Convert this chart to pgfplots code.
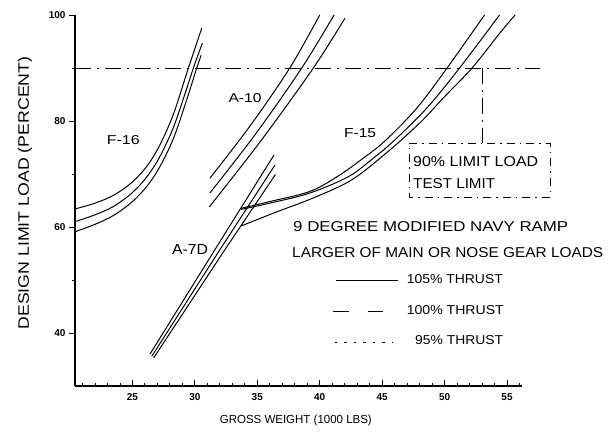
\documentclass[border=0pt]{standalone}
\usepackage{fontspec}
\setmainfont{Liberation Sans}
\usepackage{graphicx}
\usepackage{pgfplots}
\pgfplotsset{compat=1.18}
\newcommand{\fit}[3]{\resizebox{#1}{#2}{#3}}
\begin{document}
\begin{tikzpicture}
\begin{axis}[
  scale only axis, width=447pt, height=371pt,
  xmin=20.4, xmax=56.2, ymin=30, ymax=100,
  axis lines=left, axis line style={-, line width=1.3pt},
  clip=false,
  xtick={25,30,35,40,45,50,55}, minor xtick={21,22,...,56},
  ytick={40,60,80,100}, minor ytick={50,70,90},
  xtick align=inside, ytick align=outside,
  major tick length=6pt, minor tick length=3pt,
  tick style={black, line width=0.9pt},
  /pgf/number format/assume math mode=true,
  ticklabel style={font=\bfseries\fontsize{10}{12}\selectfont},
  xticklabel style={yshift=-4pt},
  xlabel={\fit{152pt}{8.5pt}{GROSS WEIGHT (1000 LBS)}},
  ylabel={\fit{273pt}{11pt}{DESIGN LIMIT LOAD (PERCENT)}},
  every axis x label/.style={at={(rel axis cs:0.494,-0.0916)}, anchor=center},
  every axis y label/.style={at={(rel axis cs:-0.1119,0.52)}, anchor=center, rotate=90},
  crv/.style={black, line width=1pt, no marks, smooth, tension=0.55},
  seg/.style={black, line width=1pt, no marks},
]
% invisible frame to fix the picture size
\path (rel axis cs:-0.1678,-0.1294) rectangle (rel axis cs:1.1991,1.0404);

% 90% limit load line and test-limit box
\addplot[seg, line width=0.9pt, dash pattern=on 16pt off 6pt on 2pt off 6pt] coordinates {(20.4,90) (57.64,90)};
\addplot[seg, line width=0.9pt, dash pattern=on 16pt off 6pt on 2pt off 6pt] coordinates {(53.0,90) (53.0,75.85)};
\addplot[seg, line width=0.9pt, dash pattern=on 8pt off 5pt on 1.5pt off 5pt] coordinates {(47.15,75.85) (58.44,75.85) (58.44,65.66) (47.15,65.66) (47.15,75.85)};

% F-16
\addplot[crv] coordinates {(20.4,63.4) (22.0,64.5) (23.5,66.0) (25.0,68.5) (26.2,71.6) (27.2,75.5) (28.3,81.4) (29.4,89.4) (30.55,97.5)};
\addplot[crv] coordinates {(20.4,61.0) (22.0,62.3) (23.5,63.9) (25.0,66.5) (26.2,69.6) (27.2,73.3) (28.3,78.9) (29.4,86.5) (29.88,90) (30.6,94.7)};
\addplot[crv] coordinates {(20.4,59.1) (22.0,60.5) (23.5,62.2) (25.0,64.8) (26.2,67.8) (27.2,71.4) (28.3,76.8) (29.4,84.4) (30.15,90) (30.5,92.4)};

% A-10
\addplot[crv] coordinates {(31.2,69.2) (34.4,79.0) (37.6,90) (40.0,100)};
\addplot[crv] coordinates {(31.2,66.4) (34.88,77.6) (38.56,90) (41.15,100)};
\addplot[crv] coordinates {(31.16,63.8) (35.3,76.3) (39.49,90) (42.02,99.4)};

% A-7D
\addplot[seg] coordinates {(26.4,36.0) (31.6,55.7) (36.34,73.6)};
\addplot[seg] coordinates {(26.55,35.6) (32.0,55.7) (36.42,71.7)};
\addplot[seg] coordinates {(26.7,35.3) (32.4,55.7) (36.45,69.9)};

% F-15
\addplot[crv] coordinates {(33.67,63.5) (36,64.8) (39.2,66.7) (41.4,69.5) (43.5,73) (45.3,76.4) (47.8,82.5) (50.2,90) (53.2,100)};
\addplot[crv] coordinates {(33.67,63.3) (36,64.5) (39.2,66.4) (42.3,69.5) (44.3,73) (46,76.4) (48.6,82.5) (51.2,90) (54.4,100)};
\addplot[crv] coordinates {(33.72,60.2) (36.5,62.8) (39.4,65.4) (42.5,68.8) (45.3,73.9) (48,79.6) (50,84.6) (52.2,90) (54.5,96.8) (55.65,100)};

% legend keys
\addplot[seg, line width=0.9pt] coordinates {(41.30,50.0) (46.27,50.0)};
\addplot[seg, line width=0.9pt, dash pattern=on 16pt off 19pt] coordinates {(41.06,44.15) (45.07,44.15)};
\addplot[seg, line width=0.9pt, dash pattern=on 2.5pt off 7pt] coordinates {(41.22,38.3) (45.79,38.3)};

% labels
\node[inner sep=0pt] at (axis cs:24.27,76.42) {\fit{33pt}{9pt}{F-16}};
\node[inner sep=0pt] at (axis cs:34.02,84.28) {\fit{33pt}{9pt}{A-10}};
\node[inner sep=0pt] at (axis cs:43.23,77.68) {\fit{32pt}{9pt}{F-15}};
\node[inner sep=0pt] at (axis cs:29.61,55.66) {\fit{36pt}{10pt}{A-7D}};
\node[inner sep=0pt, anchor=west] at (axis cs:47.47,72.32) {\fit{125pt}{10pt}{90\% LIMIT LOAD}};
\node[inner sep=0pt, anchor=west] at (axis cs:47.47,68.25) {\fit{82pt}{10pt}{TEST LIMIT}};
\node[inner sep=0pt, anchor=west] at (axis cs:37.86,60.0) {\fit{275pt}{10pt}{9 DEGREE MODIFIED NAVY RAMP}};
\node[inner sep=0pt, anchor=west] at (axis cs:37.78,55.09) {\fit{311pt}{10pt}{LARGER OF MAIN OR NOSE GEAR LOADS}};
\node[inner sep=0pt, anchor=west] at (axis cs:46.96,50.19) {\fit{96pt}{9pt}{105\% THRUST}};
\node[inner sep=0pt, anchor=west] at (axis cs:46.96,44.34) {\fit{97pt}{9pt}{100\% THRUST}};
\node[inner sep=0pt, anchor=west] at (axis cs:47.63,38.68) {\fit{88pt}{9pt}{95\% THRUST}};
\end{axis}
\end{tikzpicture}
\end{document}
